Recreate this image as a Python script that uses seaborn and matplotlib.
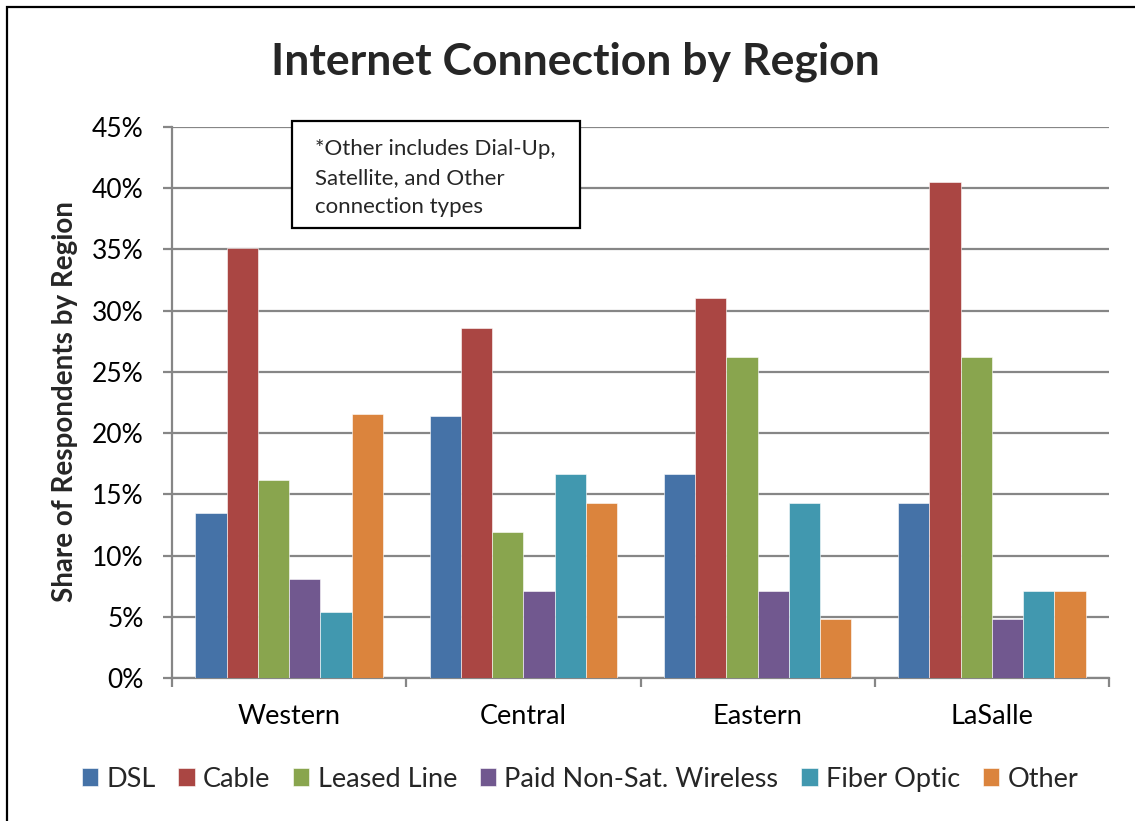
import numpy as np
import pandas as pd
import seaborn as sns
import matplotlib.pyplot as plt
from matplotlib.patches import Rectangle
from matplotlib.ticker import FixedLocator, PercentFormatter

# data (share of respondents, 0-1)
regions = ["Western", "Central", "Eastern", "LaSalle"]
conn_types = ["DSL", "Cable", "Leased Line", "Paid Non-Sat. Wireless", "Fiber Optic", "Other"]
dsl = [0.135, 0.214, 0.167, 0.143]
cable = [0.351, 0.286, 0.310, 0.405]
leased = [0.162, 0.119, 0.262, 0.262]
wireless = [0.081, 0.071, 0.071, 0.048]
fiber = [0.054, 0.167, 0.143, 0.071]
other = [0.216, 0.143, 0.048, 0.071]
y_ticks = [0, 0.05, 0.10, 0.15, 0.20, 0.25, 0.30, 0.35, 0.40, 0.45]

colors = ["#4572A7", "#AA4643", "#89A54E", "#71588F", "#4198AF", "#DB843D"]
grid_gray = "#868686"

series = [dsl, cable, leased, wireless, fiber, other]
rows = []
for name, vals in zip(conn_types, series):
    for reg, v in zip(regions, vals):
        rows.append({"region": reg, "type": name, "share": v})
df = pd.DataFrame(rows)

sns.set_theme(style="white")
plt.rcParams["font.family"] = ["Lato", "DejaVu Sans"]

W, H = 1135, 821
fig = plt.figure(figsize=(W / 100, H / 100), dpi=100)
ax = fig.add_axes([172 / W, 1 - 678 / H, (1109 - 172) / W, (678 - 127) / H])

sns.barplot(data=df, x="region", y="share", hue="type", order=regions,
            hue_order=conn_types, palette=colors, saturation=1, width=0.8,
            edgecolor="white", linewidth=0.4, ax=ax, zorder=3)

ax.set_xlim(-0.5, 3.5)
ax.set_ylim(0, 0.45)
ax.yaxis.set_major_locator(FixedLocator(y_ticks))
ax.yaxis.set_major_formatter(PercentFormatter(1.0, decimals=0))
ax.grid(axis="y", color=grid_gray, linewidth=1.6, zorder=0)
ax.set_axisbelow(True)

for side in ["top", "right"]:
    ax.spines[side].set_visible(False)
for side in ["left", "bottom"]:
    ax.spines[side].set_color(grid_gray)
    ax.spines[side].set_linewidth(1.6)

ax.tick_params(axis="y", length=6.5, width=1.6, color=grid_gray, pad=14,
               labelsize=19, labelcolor="black", left=True)
ax.tick_params(axis="x", which="major", length=0, pad=19, labelsize=19.5,
               labelcolor="black")
ax.set_xticks(np.arange(-0.5, 4.0, 1.0), minor=True)
ax.tick_params(axis="x", which="minor", length=6.5, width=1.6, color=grid_gray,
               bottom=True)
ax.set_xlabel("")
ax.set_ylabel("")

# legend across the bottom
handles, labels = ax.get_legend_handles_labels()
ax.legend_.remove()
fig.legend(handles, labels, loc="center", bbox_to_anchor=(580 / W, 1 - 779 / H),
           ncol=6, frameon=False, fontsize=19.5, handlelength=0.6,
           handleheight=0.6, handletextpad=0.3, columnspacing=0.85)

fig.text(575 / W, 1 - 62 / H, "Internet Connection by Region", ha="center",
         va="center", fontsize=32, fontweight="bold")
fig.text(65 / W, 1 - 402 / H, "Share of Respondents by Region", rotation=90,
         ha="center", va="center", fontsize=20, fontweight="bold")

# note box
fig.add_artist(Rectangle((292 / W, 1 - 228 / H), (580 - 292) / W, (228 - 121) / H,
                         transform=fig.transFigure, fill=True, facecolor="white",
                         edgecolor="black", linewidth=1.6, zorder=5))
fig.text(315 / W, 1 - 139 / H, "*Other includes Dial-Up,\nSatellite, and Other\nconnection types",
         ha="left", va="top", fontsize=16, linespacing=1.55, zorder=6)

# outer frame of the chart area
fig.add_artist(Rectangle((7 / W, -0.05), 1.1, 1 - 7 / H + 0.05,
                         transform=fig.transFigure, fill=False,
                         edgecolor="black", linewidth=1.6))

fig.savefig("out.png", dpi=100, facecolor="white")
